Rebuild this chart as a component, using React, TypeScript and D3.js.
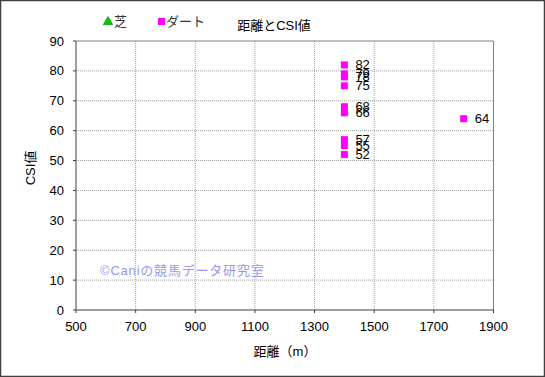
import React from "react";
import * as d3 from "d3";

const distances = [1400, 1400, 1400, 1400, 1400, 1400, 1400, 1400, 1400, 1800];
const csiValues = [82, 79, 78, 75, 68, 66, 57, 55, 52, 64];
const xTicks = [500, 700, 900, 1100, 1300, 1500, 1700, 1900];
const yTicks = [0, 10, 20, 30, 40, 50, 60, 70, 80, 90];

const W = 545, H = 377;
const M = { left: 76, right: 493.5, top: 41, bottom: 310 };
const FONT = '"Liberation Sans", Arial, "Noto Sans CJK JP", sans-serif';

export default function App() {
  const x = d3.scaleLinear().domain([500, 1900]).range([M.left, M.right]);
  const y = d3.scaleLinear().domain([0, 90]).range([M.bottom, M.top]);
  const pts = distances.map((d, i) => ({ d, v: csiValues[i] }));
  return (
    <svg width={W} height={H} style={{ position: "absolute", left: 0, top: 0, background: "#fff" }}
      fontFamily={FONT}>
      <rect x={0.5} y={0.5} width={W - 1} height={H - 1} fill="#fff" stroke="#404040" strokeWidth={1.5} />
      {xTicks.slice(1, -1).map((t) => (
        <line key={"gx" + t} x1={x(t)} x2={x(t)} y1={M.top} y2={M.bottom} stroke="#a0a0a0" strokeDasharray="1,1" />
      ))}
      {yTicks.slice(1, -1).map((t) => (
        <line key={"gy" + t} x1={M.left} x2={M.right} y1={y(t)} y2={y(t)} stroke="#a0a0a0" strokeDasharray="1,1" />
      ))}
      <line x1={M.left} x2={M.right} y1={M.top} y2={M.top} stroke="#808080" />
      <line x1={M.right} x2={M.right} y1={M.top} y2={M.bottom} stroke="#808080" />
      <line x1={M.left} x2={M.left} y1={M.top} y2={M.bottom} stroke="#404040" />
      <line x1={M.left} x2={M.right} y1={M.bottom} y2={M.bottom} stroke="#404040" />
      {xTicks.map((t) => (
        <g key={"tx" + t}>
          <line x1={x(t)} x2={x(t)} y1={M.bottom} y2={M.bottom + 3} stroke="#404040" />
          <text x={x(t)} y={331} fontSize={13} textAnchor="middle" fill="#000">{t}</text>
        </g>
      ))}
      {yTicks.map((t) => (
        <g key={"ty" + t}>
          <line x1={M.left - 3} x2={M.left} y1={y(t)} y2={y(t)} stroke="#404040" />
          <text x={64} y={y(t) + 4.5} fontSize={13} textAnchor="end" fill="#000">{t}</text>
        </g>
      ))}
      <text x={100} y={275} fontSize={13} fill="#9999ee" letterSpacing={0.8}>©Caniの競馬データ研究室</text>
      {pts.map((p, i) => (
        <g key={"p" + i}>
          <rect x={x(p.d) - 3.5} y={y(p.v) - 3.5} width={7} height={7} fill="#ff00ff" />
          <text x={x(p.d) + 11} y={y(p.v) + 4.5} fontSize={13} fill="#000">{p.v}</text>
        </g>
      ))}
      <text x={274} y={30} fontSize={13} textAnchor="middle" fill="#000">距離とCSI値</text>
      <text x={285} y={356} fontSize={13} textAnchor="middle" fill="#000">距離（m）</text>
      <text transform={`translate(35,${168}) rotate(-90)`} fontSize={13} textAnchor="middle" fill="#000">CSI値</text>
      <path d={d3.symbol(d3.symbolTriangle, 40)() || ""} transform="translate(108,22)" fill="#00cc00" stroke="#006600" strokeWidth={0.5} />
      <text x={114} y={26} fontSize={13} fill="#333">芝</text>
      <rect x={158} y={18} width={7} height={7} fill="#ff00ff" />
      <text x={166} y={26} fontSize={13} fill="#333">ダート</text>
    </svg>
  );
}
